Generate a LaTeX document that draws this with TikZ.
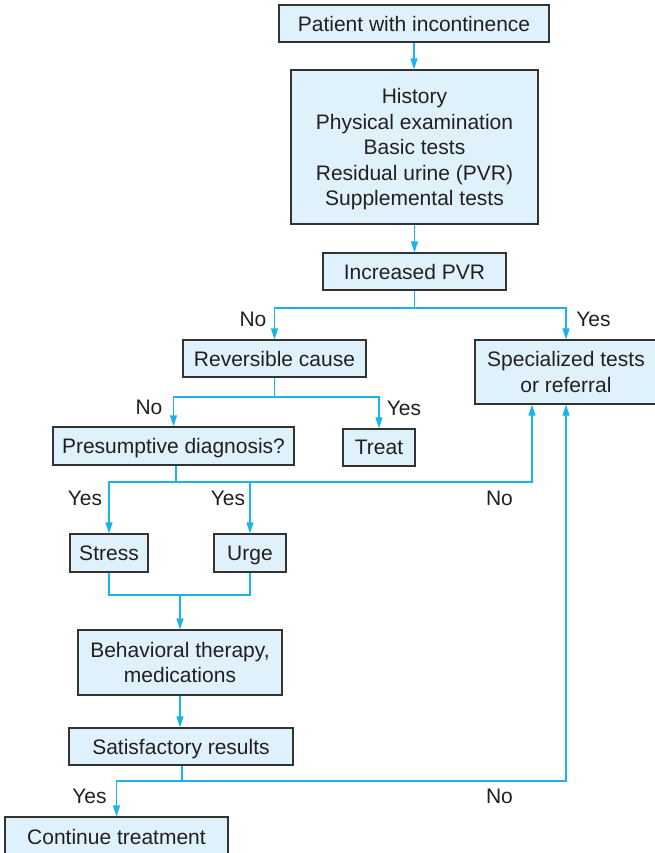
\documentclass[tikz,border=0pt]{standalone}
\usepackage{fontspec}
\setmainfont{Liberation Sans}
\usetikzlibrary{arrows.meta,calc}
\definecolor{boxfill}{HTML}{DFF2FC}
\definecolor{boxline}{HTML}{333333}
\definecolor{cyanline}{HTML}{1AB4EA}
\definecolor{txt}{HTML}{231F20}
\begin{document}
\begin{tikzpicture}[x=1pt,y=-1pt,
  box/.style={draw=boxline, fill=boxfill, line width=1.3pt, inner sep=0pt, text=txt, align=center, text depth=0pt, font=\fontsize{21}{25.5}\selectfont},
  lbl/.style={text=txt, font=\fontsize{21}{25.5}\selectfont, inner sep=0pt, text height=15pt, text depth=0pt},
  link/.style={draw=cyanline, line width=1.3pt},
  arr/.style={link, -{Triangle[length=11pt,width=7pt]}},
  arrboth/.style={link, {Triangle[length=11pt,width=7pt]}-{Triangle[length=11pt,width=7pt]}}]
\useasboundingbox (0,0) rectangle (655,853);
% boxes
\node[box, minimum width=270pt, minimum height=37pt] (patient) at (414,23.5) {Patient with incontinence};
\node[box, minimum width=247pt, minimum height=154pt] (hist) at (414.5,147) {History\\Physical examination\\Basic tests\\Residual urine (PVR)\\Supplemental tests};
\node[box, minimum width=183pt, minimum height=37pt] (pvr) at (414.5,271.5) {Increased PVR};
\node[box, minimum width=183pt, minimum height=37pt] (rev) at (274.5,358.5) {Reversible cause};
\node[box, minimum width=182pt, minimum height=64pt] (spec) at (566,372) {Specialized tests\\or referral};
\node[box, minimum width=241pt, minimum height=38pt] (pres) at (173.5,446) {Presumptive diagnosis?};
\node[box, minimum width=72pt, minimum height=37pt] (treat) at (379,447.5) {Treat};
\node[box, minimum width=78pt, minimum height=38pt] (stress) at (109,553) {Stress};
\node[box, minimum width=72pt, minimum height=38pt] (urge) at (250,553) {Urge};
\node[box, minimum width=204pt, minimum height=65pt] (beh) at (180,662.5) {Behavioral therapy,\\medications};
\node[box, minimum width=224pt, minimum height=37pt] (sat) at (181,746.5) {Satisfactory results};
\node[box, minimum width=223pt, minimum height=40pt] (cont) at (116.5,837) {Continue treatment};
% junction coordinates
\coordinate (b1) at (414.5,308);
\coordinate (b2) at (274.5,397);
\coordinate (b3) at (176,482);
\coordinate (b4) at (180,595);
\coordinate (b5) at (182,781);
\coordinate (specL) at ($(spec.south)+(-34,0)$);
% connectors
\draw[arr] (patient.south) -- (patient.south |- hist.north);
\draw[arr] (hist.south) -- (hist.south |- pvr.north);
\draw[link] (pvr.south) -- (b1);
\draw[arrboth] (rev.north) |- (b1) -| (spec.north);
\draw[link] (rev.south) -- (b2);
\draw[arrboth] (pres.north) |- (b2) -| (treat.north);
\draw[link] (pres.south -| b3) -- (b3);
\draw[arrboth] (stress.north) |- (b3) -| (specL);
\draw[arr] (b3 -| urge.north) -- (urge.north);
\draw[link] (stress.south) |- (b4) -| (urge.south);
\draw[arr] (b4) -- (beh.north);
\draw[arr] (beh.south) -- (beh.south |- sat.north);
\draw[link] (sat.south -| b5) -- (b5);
\draw[arrboth] (cont.north) |- (b5) -| (spec.south);
% labels
\node[lbl] (l1) at (253,319) {No};
\node[lbl] (l2) at (593.5,319) {Yes};
\node[lbl] (l3) at (149,407) {No};
\node[lbl] (l4) at (404,407.5) {Yes};
\node[lbl] (l5) at (85,498) {Yes};
\node[lbl] (l6) at (228,498) {Yes};
\node[lbl] (l7) at (499.5,498) {No};
\node[lbl] (l8) at (89.5,796) {Yes};
\node[lbl] (l9) at (499.5,796) {No};
\end{tikzpicture}
\end{document}
